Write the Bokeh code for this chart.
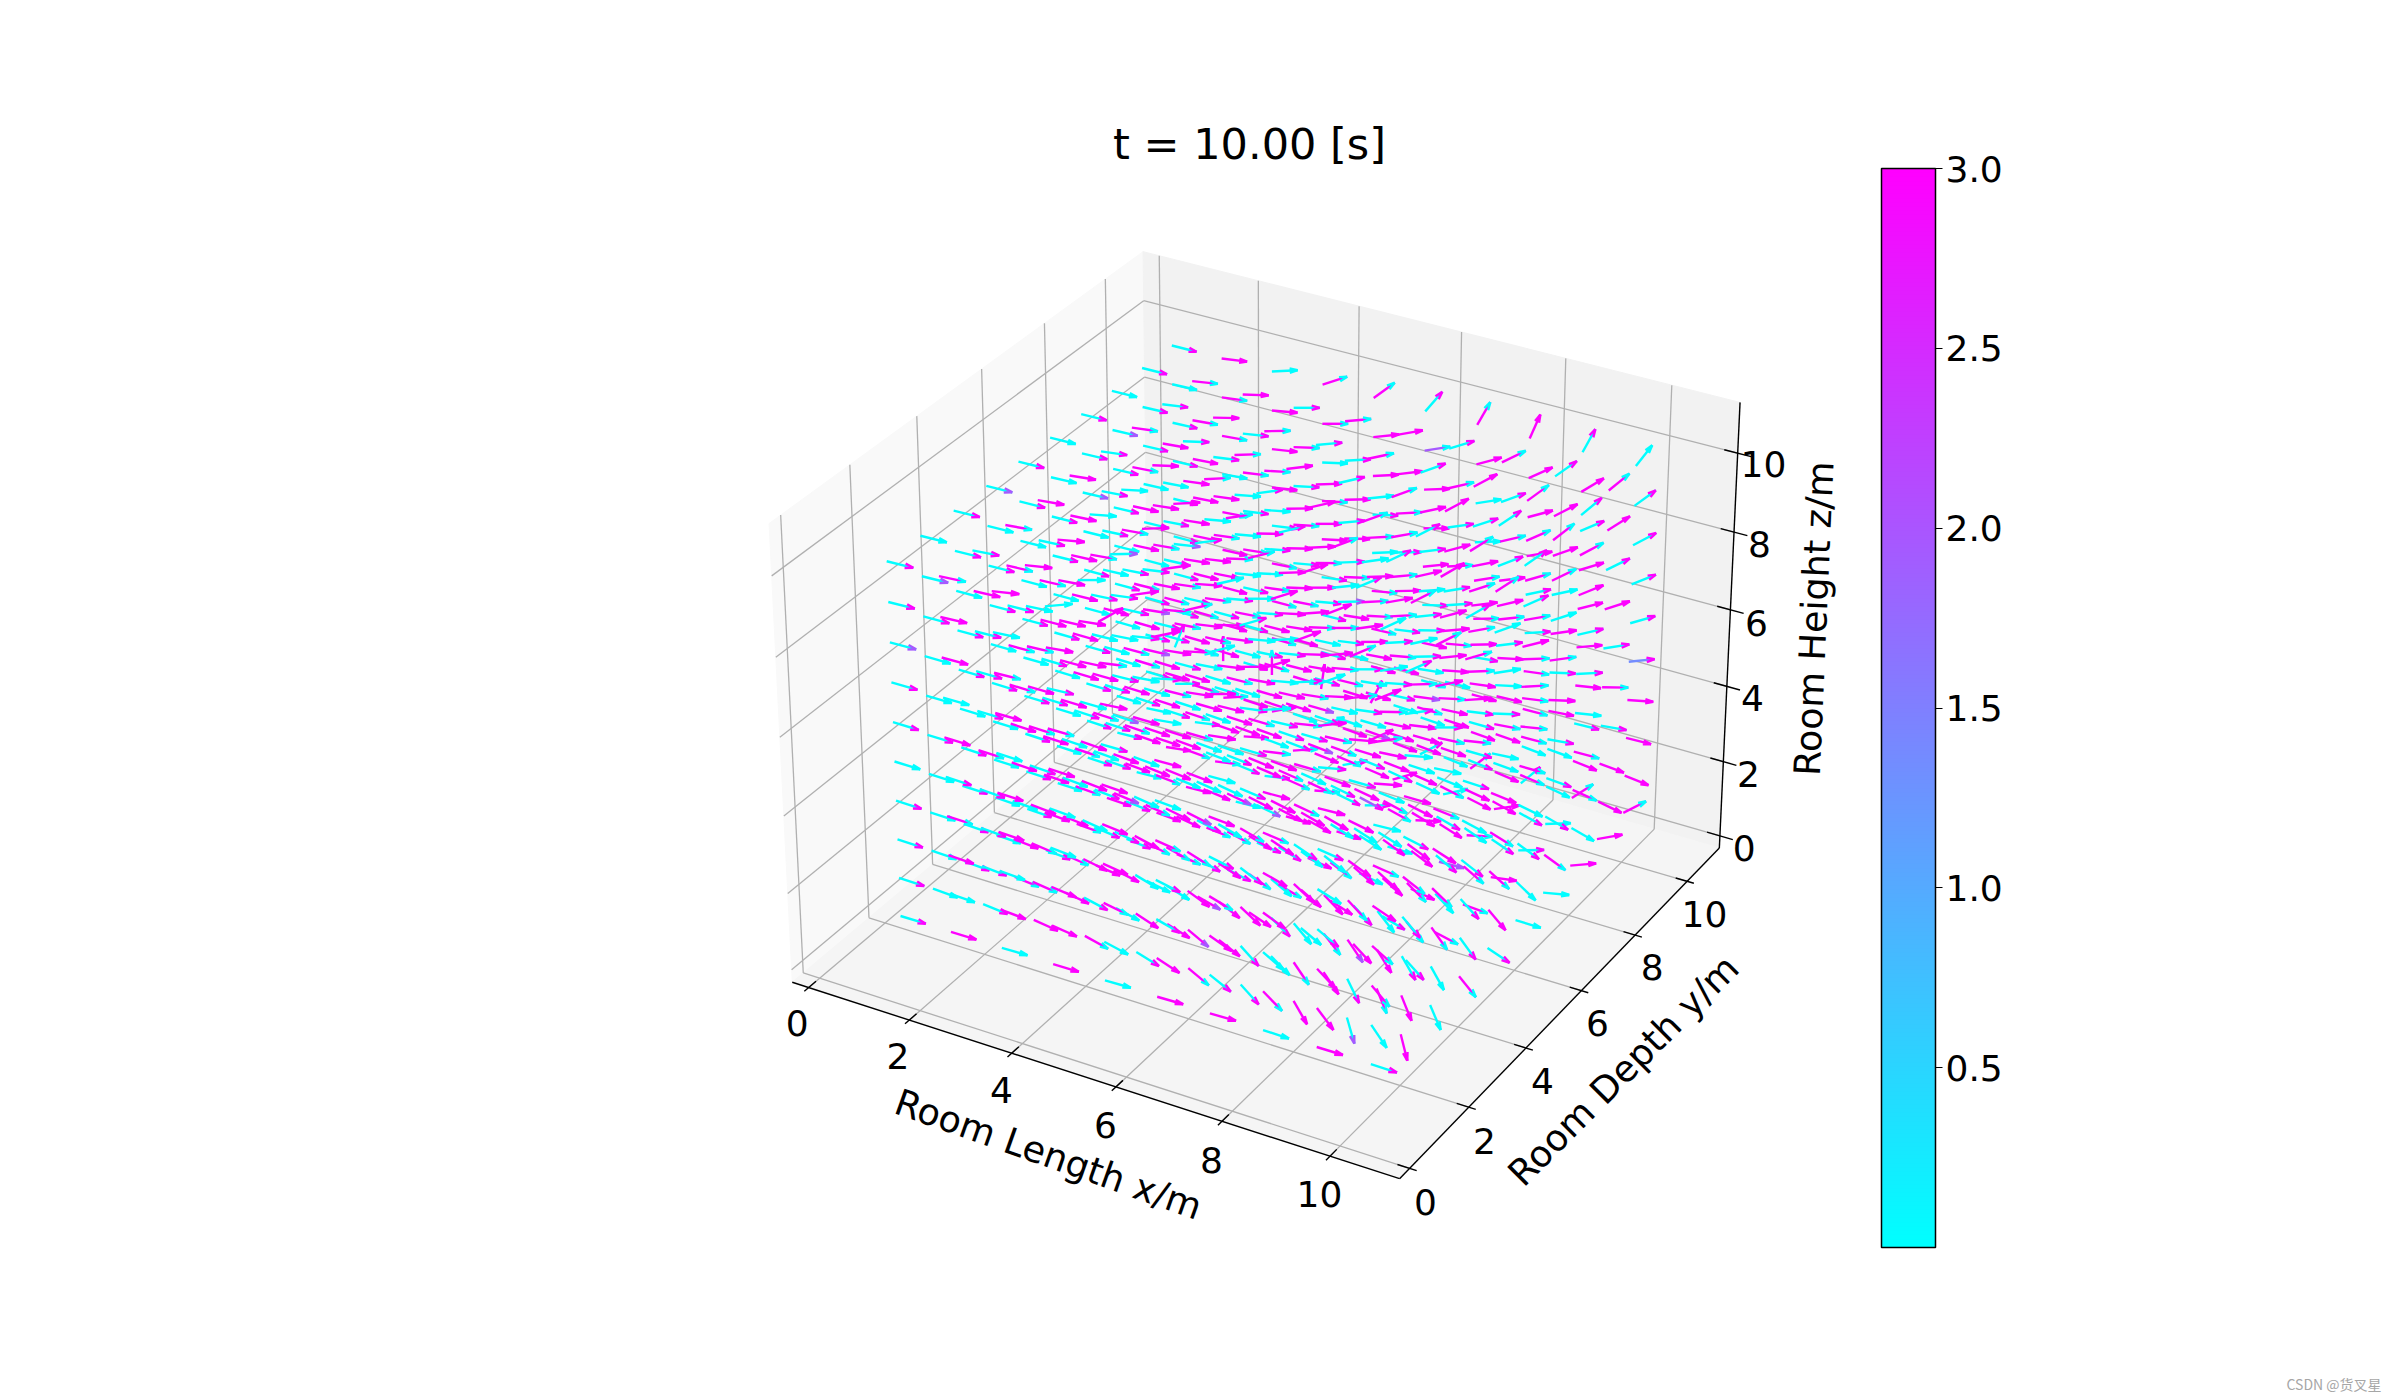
import numpy as np
from bokeh.plotting import figure
from bokeh.models import Range1d, ColorBar, LinearColorMapper, FixedTicker, ColumnDataSource, PrintfTickFormatter
from bokeh.core.properties import value
from bokeh.embed import file_html
from bokeh.resources import INLINE

title_text = "t = 10.00 [s]"
x_label = "Room Length x/m"
y_label = "Room Depth y/m"
z_label = "Room Height z/m"
tick_values = [0, 2, 4, 6, 8, 10]
colorbar_ticks = [0.5, 1.0, 1.5, 2.0, 2.5, 3.0]
grid_x = [1, 2, 3, 4, 5, 6, 7, 8, 9, 10]
grid_y = [1, 2, 3, 4, 5, 6, 7, 8, 9, 10]
grid_z = [1, 2, 3, 4, 5, 6, 7, 8, 9, 10]
axis_lo, axis_hi = -0.33, 11.27

# On-screen flow direction of every arrow in degrees, rows y=1..10, columns x=1..10
dir_z1 = [-17,-17,-16,-17,-16,-16,-16,-18,-17,-18, -20,-22,-24,-29,-32,-40,-48,-60,-74,-76, -20,-22,-25,-28,-32,-38,-46,-56,-68,-67, -19,-21,-23,-26,-30,-34,-40,-47,-48,-51, -19,-20,-22,-24,-27,-30,-33,-31,-28,-34, -18,-19,-20,-22,-23,-24,-25,-25,-20,-17, -18,-14,-14,-14,-16,-17,-16,-14,-8,-5, -14,-9,-7,-6,-4,0,-2,-3,1,5, -12,-7,-4,4,10,16,12,8,2,10, 0,3,11,20,24,28,37,40,33,27]
dir_z2 = [-18,-19,-21,-24,-28,-33,-39,-46,-53,-56, -19,-21,-24,-28,-33,-40,-48,-56,-64,-68, -19,-21,-24,-27,-32,-38,-45,-52,-58,-61, -19,-20,-23,-26,-30,-35,-41,-47,-51,-54, -18,-20,-22,-25,-28,-32,-37,-42,-47,-50, -18,-19,-21,-23,-26,-29,-33,-37,-41,-44, -18,-19,-20,-22,-24,-26,-29,-32,-34,-36, -17,-18,-19,-20,-22,-23,-25,-27,-29,-30, -17,-17,-18,-19,-20,-21,-22,-23,-25,-26, 68,90,90,82,63,-19,-20,-21,-22,-22]
dir_z3 = [-18,-19,-20,-23,-26,-30,-35,-41,-47,-50, -18,-20,-23,-26,-31,-36,-43,-50,-56,-60, -18,-20,-22,-25,-29,-34,-40,-46,-52,-55, -18,-19,-21,-24,-27,-31,-36,-41,-45,-48, -18,-19,-20,-22,-25,-28,-32,-36,-40,-42, -17,-18,-19,-21,-23,-25,-28,-31,-34,-36, -17,-18,-18,-20,-21,-23,-25,-27,-29,-30, -17,-17,-17,-18,-19,-20,-21,-22,-23,-24, -16,-16,-17,-17,-17,-18,-18,-19,-20,-20, -16,-16,-16,-16,-16,-16,-15,-15,-14,-14]
dir_z4 = [-18,-18,-19,-21,-24,-27,-31,-36,-40,-42, -18,-19,-21,-24,-28,-32,-37,-43,-47,-50, -18,-19,-20,-23,-26,-30,-34,-38,-42,-44, -17,-18,-20,-22,-24,-27,-30,-33,-36,-38, -17,-18,-19,-20,-22,-24,-26,-28,-30,-32, -17,-17,-18,-19,-20,-21,-22,-24,-25,-26, -16,-17,-17,-18,-18,-19,-19,-19,-20,-20, -16,-16,-17,-17,-17,-17,-16,-16,-15,-15, -16,-16,-16,-16,-15,-15,-14,-13,-11,-10, -15,-15,-15,-14,-13,-12,-10,-8,-6,-4]
dir_z5 = [-17,-18,-18,-20,-22,-24,-27,-30,-32,-34, -17,-18,-19,-21,-24,-27,-30,-34,-36,-38, -17,-18,-19,-20,-22,-25,-27,-30,-32,-33, -17,-17,-18,-19,-20,-22,-24,-25,-27,-28, -16,-17,-17,-18,-18,-19,-20,-21,-22,-22, -16,-16,-17,-17,-16,-16,-16,-16,-16,-16, -15,-16,-16,-15,-14,-14,-13,-12,-11,-10, -15,-15,-15,-14,-12,-11,-9,-8,-7,-6, -15,-14,-13,-11,-9,-7,-5,-3,-2,-1, -15,-13,-11,-8,-5,-2,1,3,5,6]
dir_z6 = [-17,-17,-18,-18,-19,-20,-21,-23,-24,-24, -16,-17,-18,-19,-20,-21,-23,-25,-26,-27, -16,-17,-17,-18,-18,-19,-20,-21,-22,-22, -16,-16,-16,-16,-16,-16,-16,-17,-18,-18, -15,-16,-15,-15,-14,-13,-13,-12,-12,-12, -15,-15,-14,-13,-12,-10,-9,-8,-7,-6, -15,-14,-13,-11,-9,-7,-5,-4,-3,-2, -14,-13,-11,-8,-5,-3,-1,1,2,3, -14,-12,-9,-5,-2,1,4,6,8,9, -14,-11,-7,-3,2,6,9,12,14,16]
dir_z7 = [-16,-16,-16,-16,-16,-15,-15,-15,-14,-14, -16,-16,-16,-16,-16,-16,-16,-16,-16,-16, -15,-15,-15,-14,-14,-14,-13,-13,-12,-12, -15,-15,-14,-13,-11,-10,-9,-8,-7,-6, -15,-14,-13,-11,-8,-6,-5,-4,-3,-2, -14,-13,-11,-8,-5,-2,0,1,2,3, -14,-12,-9,-6,-2,1,3,5,7,8, -13,-11,-8,-4,-1,2,4,7,10,13, -13,-11,-7,-3,-1,1,3,7,12,18, -13,-10,-6,-3,-2,0,2,10,17,22]
dir_z8 = [-15,-15,-14,-13,-12,-10,-9,-7,-5,-4, -15,-14,-13,-12,-11,-9,-8,-6,-5,-5, -15,-14,-13,-11,-9,-7,-5,-3,-1,0, -14,-13,-12,-9,-7,-5,-2,0,2,4, -14,-13,-11,-8,-5,-3,0,3,6,9, -14,-12,-10,-7,-3,0,3,6,10,14, -13,-12,-9,-5,-1,2,5,9,13,18, -13,-11,-8,-4,0,3,7,11,16,22, -13,-11,-7,-3,1,3,8,13,19,26, -13,-10,-6,-2,3,2,9,15,23,28]
dir_z9 = [-14,-13,-12,-10,-7,-3,0,3,6,8, -14,-13,-12,-9,-6,-3,0,3,6,8, -14,-13,-11,-8,-5,-2,2,5,9,12, -14,-12,-10,-7,-4,0,4,8,12,16, -14,-12,-10,-6,-2,2,6,10,15,20, -13,-11,-9,-5,-1,3,8,13,18,24, -13,-11,-8,-4,1,5,10,15,21,26, -13,-10,-7,-3,2,6,12,18,24,28, -13,-10,-6,-2,3,7,13,20,27,32, -13,-8,-5,0,6,9,15,24,31,36]
dir_z10 = [-14,-12,-6,5,29,12,14,17,20,22, -14,-11,-6,0,8,13,16,20,23,24, -14,-10,-5,1,8,13,17,21,25,27, -14,-10,-4,2,8,14,19,23,27,30, -14,-9,-3,3,8,14,20,25,30,33, -14,-8,-2,3,8,13,20,27,32,35, -14,-8,-2,2,7,13,20,28,34,38, -14,-7,-1,1,5,12,20,28,36,40, -14,-6,-2,0,5,10,17,26,35,39, -14,-7,3,18,36,49,60,66,61,52]
directions = [dir_z1, dir_z2, dir_z3, dir_z4, dir_z5, dir_z6, dir_z7, dir_z8, dir_z9, dir_z10]

# Speed class seen on each shaft / head: c low, b mid-low, p mid-high, m high
speed_class = {"c": 0.03, "b": 1.35, "p": 1.95, "m": 2.97}
shaft_z1 = "cmcmcmmcmc ccmmcmcmcm cmmcmmcmmc ccmcmmcmcm cmcmcmmcmc cmmmcmcmmc ccmcmmcpmc cmmcmcmmcm ccmmcmcmcm cmmcmcmcmm"
shaft_z2 = "ccmmcmcmmc ccmcmmcmcm cmmmcmcmmc cmcmcmmcmc cmcmmcmmcm ccmmcmcmmc cmmcmcmmcm ccmcmmcmcc cmmcmmcmcm cmmmmcmcmm"
shaft_z3 = "cmcmmcmcmm ccmmcmmcmc ccmcmmcmcm cmcmcmcmmc cmmcmmcmcm ccmcmmpmcc ccmmcmcmmc cmcmcmmcmm cmcmmcmmcm cmmcmcmmcm"
shaft_z4 = "cmmcmcmmcm ccmcmmcmmc cmcmmcmcmm cmcmcmmcmc ccmmcmcmcm ccmcmmcmmc cmmcmcmmcc ccmmcmmcmm cmcmcmcmmc cmmcmmcmmm"
shaft_z5 = "ccmcmmcmcm cmcmcmmcmm cmcmmcmmcm ccmmcmcmmc cmmcmcmmcm ccmcmmcmcm cmmcmmcmmc cmcmcmcmmc cmcmmcmmcm cmmcmcmcmb"
shaft_z6 = "cmcmmcmmcm ccmmcmcmmc cmmcmcmmcm ccmcmmcmcc cmmcmmcmmc cmcmcmcmcm cmcmmcmmcm ccmmcmcmmc cmmcmmcmmc cmcmcmmcmc"
shaft_z7 = "ccmmcmcmmc ccmcmmcmcm cmmcmmcmmc cmcmcmmcmm cmcmmcmcmc ccmmcmmcmm cmmcmcmmcm ccmcmmcmmc cmcmmcmmcm ccmmcmcmmc"
shaft_z8 = "cmmcmcmmcm ccmmcmcmmc ccmcmmcmmc cmcmmcmcmm cmcmcmmcmc ccmmcmmcmm cmmcmcmcmc ccmcmmcmmm cmmcmmcmmc cmmcmmcmcc"
shaft_z9 = "cmcmmcmcmm cmcmcmmcmc cmmcmmcmcm ccmcmcmmcm cmmcmmcmmc ccmcmmcmmc cmmcmcmmcm cmcmmcmcmm cmcmcmmcmm cmmmmpmmmc"
shaft_z10 = "cmmcmmcmcm ccmcmmcmmc cmmcmcmmcm cmcmcmmcmc cmcmmcmcmm ccmmcmmcmc cmcmmcmmcm ccmmcmcmmc cmmcmmcmcm cmcmmcmmcc"
head_z1 = "mmcmcmmcmm cmmcmcmmpm mcmcmmcmcc cmmcpmcmmc mcmcmcmmcm cmmcmmcmcc mcmcmmcpmc mmcmcmmcmm cmmcmmcmcm mcmcmmcmcc"
head_z2 = "mcmmcmmcmc cmcmmpmcmm mmcmcmmcmc cmmcmcmmcm mcmmcmcmcm cmcmpmcmcc mmcmcmcmmc cmmcmmcmmc mcmcmmcmcm mmcmmcmcmm"
head_z3 = "mmcmcmmcmc cmcmcmmcpm mcmmcmcmcc cmmcmmcmcm mcmcpmcmmc cmmcmcmmcm mmcmmcmcmm cmcmmpmmcc mcmcmcmmcm mmcmmcmcmm"
head_z4 = "mcmcmmcmmc cmmcmcmmcm mmcpmcmcmc cmcmcmmcmm mmcmmcmcmc cmmcmpmmmc mcmcmcmmcm cmmcmmcmcc mcmmcmcmmm mmcmcmmcmm"
head_z5 = "cmmcmcmmcm mcmmcpcmmc cmcmmcmmcm mmcmcmcmmc cmmcmmcmcm mcmcmpcmmc cmmcmcmmcm mcmmcmcmcc cmmcmmcmmc mmcmcmcmmm"
head_z6 = "mmcmmcmcmc cmcmcmmcmm mcmpmcmmcc cmmcmcmmcm mmcmcmcmcc cmmcmmcpmc mcmcmmcmcm cmmcmcmmcm mmcmcmmcmm mcmmcmcmmm"
head_z7 = "mcmcmmcmmc cmmcmcmcmm mcmmcmmcmc mmcpcmcmmc cmmcmmcmcm mcmcmcmmcc cmmcmpcmmc mmcmcmcmcm cmmcmmcmcm mcmcmmcmmm"
head_z8 = "pmcmmcmcmm mmcmcmmcmc cmmcmmcmcm mcmpmcmmcm cmmcmmcmmc mmcmcmcmcm pmmcmmcmmc mcmcmcmmcm mmcmmcmcmm mcmcmmcmmm"
head_z9 = "mmcmcmmcmc pmcmmcmmcm mcmmcmcmcm cmcmmcmmcc mmcpcmcmmc cmmcmmcmcm mcmcmmcmmc pmmcmcmmcc mcmcmmcmmm ccmcmcmmmm"
head_z10 = "mcmcmmcmcm cmmcmcmmcm mcmpmcmmcc pmcmmcmmcm mmcmcmcmmc cmmcmmcmcm mcmcmmcmmc cmmcmcmmcm mcmmcmmcmc mmcccmcmmc"
shaft_rows = [shaft_z1, shaft_z2, shaft_z3, shaft_z4, shaft_z5, shaft_z6, shaft_z7, shaft_z8, shaft_z9, shaft_z10]
head_rows = [head_z1, head_z2, head_z3, head_z4, head_z5, head_z6, head_z7, head_z8, head_z9, head_z10]

# Camera calibrated on the box edges of the picture
lo, hi = axis_lo, axis_hi
cal_world = [(lo,lo,lo),(hi,lo,lo),(hi,hi,lo),(lo,hi,lo),(lo,lo,hi),(lo,hi,hi),(hi,hi,hi),
             (hi,hi,10),(hi,hi,8),(hi,hi,6),(hi,hi,4),(hi,hi,2),(hi,hi,0),
             (0,lo,lo),(2,lo,lo),(4,lo,lo),(6,lo,lo),(8,lo,lo),(10,lo,lo),
             (hi,0,lo),(hi,2,lo),(hi,4,lo),(hi,6,lo),(hi,8,lo),(hi,10,lo)]
cal_page = [(791,980),(1398,1178),(1719,847),(1148,684),(769,523),(1142,251),(1738,402),
            (1737.5,452),(1734.6,532.5),(1731,609),(1726.4,686),(1722.9,761.8),(1719.3,835.4),
            (808,987),(908.7,1019),(1010.9,1052.7),(1117,1086.7),(1223,1123),(1331.4,1157.3),
            (1406.7,1167.7),(1467,1106),(1525,1046.7),(1581.7,990),(1635,934),(1685.7,880)]
rows = []
for (a, b, c), (u, v) in zip(cal_world, cal_page):
    u, v = u / 1000, v / 1000
    rows.append([a, b, c, 1, 0, 0, 0, 0, -u*a, -u*b, -u*c, -u])
    rows.append([0, 0, 0, 0, a, b, c, 1, -v*a, -v*b, -v*c, -v])
cam = np.linalg.svd(np.array(rows, dtype=float))[2][-1].reshape(3, 4)

def proj(a, b, c):
    h = cam @ np.array([a, b, c, 1.0])
    return h[0] / h[2] * 1000, h[1] / h[2] * 1000

def camw(a, b, c):
    return abs((cam @ np.array([a, b, c, 1.0]))[2])

W, H = 2392, 1392
p = figure(width=W, height=H, x_range=Range1d(0, W), y_range=Range1d(H, 0),
           output_backend="svg", toolbar_location=None, min_border=0,
           background_fill_color="white", border_fill_color="white", outline_line_color=None)
p.axis.visible = False
p.grid.visible = False

def pane(pts, col):
    q = [proj(*t) for t in pts]
    p.patch([t[0] for t in q], [t[1] for t in q], fill_color=col, line_color=col, line_width=1)

pane([(lo,lo,lo),(lo,hi,lo),(lo,hi,hi),(lo,lo,hi)], "#f9f9f9")
pane([(lo,hi,lo),(hi,hi,lo),(hi,hi,hi),(lo,hi,hi)], "#f2f2f2")
pane([(lo,lo,lo),(hi,lo,lo),(hi,hi,lo),(lo,hi,lo)], "#f5f5f5")

def seglist(items):
    x0, y0, x1, y1 = [], [], [], []
    for s, e in items:
        a = proj(*s); b = proj(*e)
        x0.append(a[0]); y0.append(a[1]); x1.append(b[0]); y1.append(b[1])
    return x0, y0, x1, y1

grid_items = []
for t in tick_values:
    grid_items += [((t,lo,lo),(t,hi,lo)), ((t,hi,lo),(t,hi,hi)),
                   ((lo,t,lo),(hi,t,lo)), ((lo,t,lo),(lo,t,hi)),
                   ((lo,lo,t),(lo,hi,t)), ((lo,hi,t),(hi,hi,t))]
g = seglist(grid_items)
p.segment(g[0], g[1], g[2], g[3], line_color="#b0b0b0", line_width=1.3)

axis_items = [((lo,lo,lo),(hi,lo,lo)), ((hi,lo,lo),(hi,hi,lo)), ((hi,hi,lo),(hi,hi,hi))]
for t in tick_values:
    axis_items += [((t,lo-0.13,lo),(t,lo+0.22,lo)), ((hi-0.22,t,lo),(hi+0.13,t,lo)), ((hi-0.25,hi,t),(hi+0.25,hi,t))]
ax = seglist(axis_items)
p.segment(ax[0], ax[1], ax[2], ax[3], line_color="black", line_width=1.4)

# Arrows, painted back to front
palette = ["#%02x%02xff" % (i, 255 - i) for i in range(256)]
mapper = LinearColorMapper(palette=palette, low=0, high=3)
recs = []
ref_w = camw(5, 5, 5)
for iz, zv in enumerate(grid_z):
    shafts = shaft_rows[iz].replace(" ", "")
    heads = head_rows[iz].replace(" ", "")
    for iy, yv in enumerate(grid_y):
        for ix, xv in enumerate(grid_x):
            k = iy * 10 + ix
            depth = 0.433 * xv - 0.75 * yv + 0.5 * zv
            recs.append((depth, xv, yv, zv, directions[iz][k],
                         speed_class[shafts[k % len(shafts)]], speed_class[heads[k % len(heads)]]))
recs.sort(key=lambda r: r[0])
xs0, ys0, xs1, ys1, vals = [], [], [], [], []
for _, xv, yv, zv, ang, sv, hv in recs:
    tx, ty = proj(xv, yv, zv)
    size = 26.5 * ref_w / camw(xv, yv, zv)
    th = np.radians(ang)
    ex, ey = tx + size * np.cos(th), ty - size * np.sin(th)
    xs0.append(tx); ys0.append(ty); xs1.append(ex); ys1.append(ey); vals.append(sv)
    for sign in (-1, 1):
        b = th + np.pi + sign * np.radians(15)
        hl = size * 0.32
        xs0.append(ex); ys0.append(ey)
        xs1.append(ex + hl * np.cos(b)); ys1.append(ey - hl * np.sin(b)); vals.append(hv)
src = ColumnDataSource(dict(x0=xs0, y0=ys0, x1=xs1, y1=ys1, v=vals))
p.segment("x0", "y0", "x1", "y1", source=src, line_width=2.4,
          line_color={"field": "v", "transform": mapper})

# Texts
font = value("DejaVu Sans")
def put(x, y, txt, size, angle=0.0, align="center", col="black", fnt=font):
    p.text([x], [y], text=[txt], text_font=fnt, text_font_size=size, angle=[np.radians(angle)],
           text_align=align, text_baseline="middle", text_color=col)

put(1249, 143, title_text, "43px")
xl = [(796.6,1022.7),(897.5,1055),(1001,1089),(1105,1124),(1211,1159),(1319,1193)]
yl = [(1425,1201.7),(1484,1140),(1542,1080),(1597,1022),(1651.7,966.7),(1704,913)]
zl = [(1743.6,847),(1748,773.6),(1752,697),(1756,622),(1759,543),(1763,463)]
for t, a, b, c in zip(tick_values, xl, yl, zl):
    put(a[0], a[1], str(t), "36px")
    put(b[0], b[1], str(t), "36px")
    put(c[0], c[1], str(t), "36px")
put(1048, 1154, x_label, "36.5px", -19.5)
put(1623, 1070, y_label, "36.5px", 45)
put(1813.6, 618, z_label, "36.5px", 87.5)
put(2286, 1383, "CSDN @货叉星", "14px", col="#a6a6a6", fnt=value("Noto Sans CJK SC"), align="left")

# Colour bar
bar = ColorBar(color_mapper=mapper, ticker=FixedTicker(ticks=colorbar_ticks), width=54, height=1079,
               location=(1881, H - 1247), padding=0, margin=0, background_fill_alpha=0,
               formatter=PrintfTickFormatter(format="%.1f"),
               bar_line_color="black", bar_line_width=1.5,
               major_tick_out=7, major_tick_in=0, major_tick_line_color="black", minor_tick_line_color=None,
               label_standoff=3, major_label_text_font="DejaVu Sans", major_label_text_font_size="36px",
               major_label_text_color="black", border_line_color=None)
p.add_layout(bar, "center")

open("out.html", "w").write(file_html(p, INLINE))
